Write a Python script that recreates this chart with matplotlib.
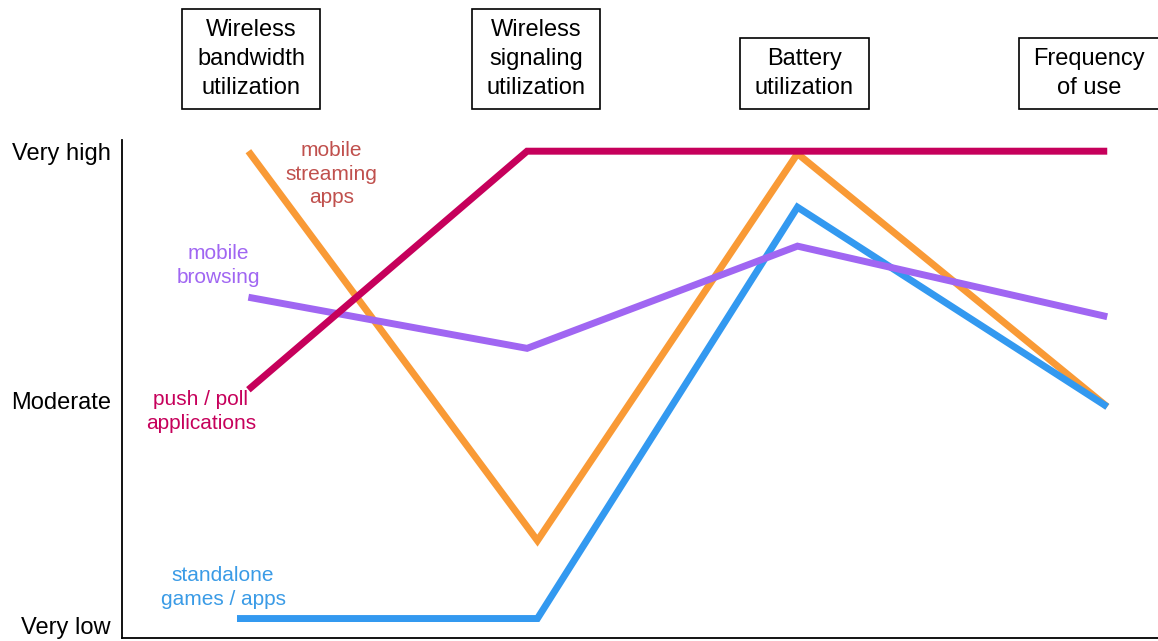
import matplotlib.pyplot as plt

plt.rcParams['font.family'] = ['Liberation Sans', 'DejaVu Sans']

# Column headers (metrics compared)
metrics = ['Wireless\nbandwidth\nutilization', 'Wireless\nsignaling\nutilization',
           'Battery\nutilization', 'Frequency\nof use']
metric_x = [0.2168, 0.463, 0.6947, 0.9404]

# Qualitative levels on a 0-10 scale
level_labels = ['Very low', 'Moderate', 'Very high']
level_vals = [0.25, 4.87, 10]

# Series: x positions along the axis (0-100), y levels (0-10)
push_x = [12.2, 39.1, 65.2, 95.1]
push_y = [5.1, 10, 10, 10]
stream_x = [12.2, 40.1, 65.2, 95.1]
stream_y = [10, 2.0, 9.95, 4.75]
games_x = [11.1, 40.1, 65.2, 95.1]
games_y = [0.4, 0.4, 8.85, 4.75]
browse_x = [12.2, 39.1, 65.2, 95.1]
browse_y = [7.0, 5.95, 8.05, 6.6]

c_push = '#C6005B'
c_stream = '#F99A36'
c_games = '#3399F0'
c_browse = '#A066F2'

fig = plt.figure(figsize=(11.58, 6.41), dpi=100)
ax = fig.add_axes([122 / 1158, 3 / 641, 1036 / 1158, 498 / 641])

lw = 5
kw = dict(lw=lw, solid_capstyle='butt', solid_joinstyle='miter')
ax.plot(stream_x, stream_y, color=c_stream, zorder=2, **kw)
ax.plot(games_x, games_y, color=c_games, zorder=3, **kw)
ax.plot(browse_x, browse_y, color=c_browse, zorder=4, **kw)
ax.plot(push_x, push_y, color=c_push, zorder=5, **kw)

# series labels
lab = dict(fontsize=15, ha='center', va='center', linespacing=1.32)
ax.text(20.2, 9.53, 'mobile\nstreaming\napps', color='#C0504D', **lab)
ax.text(9.3, 7.66, 'mobile\nbrowsing', color=c_browse, **lab)
ax.text(7.6, 4.66, 'push / poll\napplications', color=c_push, **lab)
ax.text(9.75, 1.03, 'standalone\ngames / apps', color='#3A9BE6', **lab)

ax.set_xlim(0, 100)
ax.set_ylim(0, 10.23)
ax.set_xticks([])
ax.set_yticks(level_vals)
ax.set_yticklabels(level_labels, fontsize=17)
ax.tick_params(axis='y', length=0, pad=8)
for s in ['top', 'right']:
    ax.spines[s].set_visible(False)
for s in ['left', 'bottom']:
    ax.spines[s].set_linewidth(1.3)
    ax.spines[s].set_color('black')

# boxed column headers (wider side padding than top/bottom)
for name, x in zip(metrics, metric_x):
    fig.text(x, 1 - 99 / 641, name, fontsize=17, ha='center', va='bottom',
             linespacing=1.42,
             bbox=dict(boxstyle='square,pad=0.62', mutation_aspect=0.66,
                       fc='white', ec='black', lw=1.2))

fig.savefig('out.png', dpi=100)
